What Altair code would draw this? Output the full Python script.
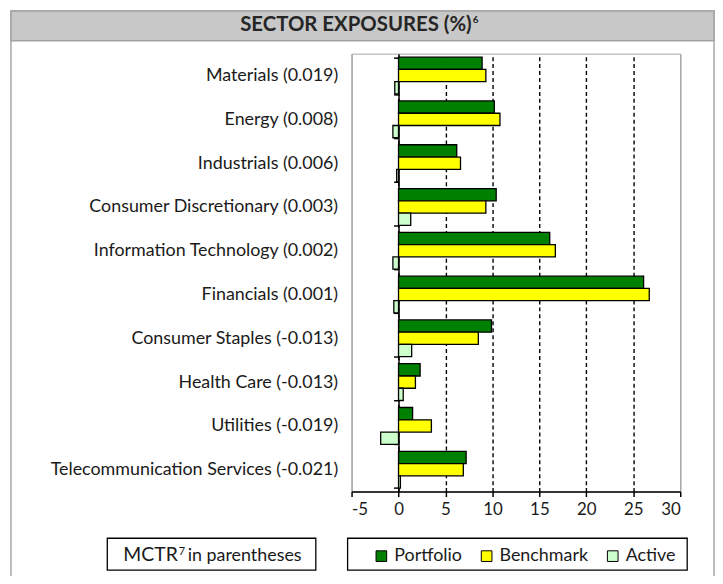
import altair as alt
import pandas as pd

sectors = ["Materials", "Energy", "Industrials", "Consumer Discretionary",
           "Information Technology", "Financials", "Consumer Staples",
           "Health Care", "Utilities", "Telecommunication Services"]
mctr = ["0.019", "0.008", "0.006", "0.003", "0.002", "0.001",
        "-0.013", "-0.013", "-0.019", "-0.021"]
portfolio = [8.9, 10.2, 6.2, 10.4, 16.1, 26.1, 9.9, 2.3, 1.5, 7.2]
benchmark = [9.3, 10.8, 6.6, 9.3, 16.7, 26.7, 8.5, 1.8, 3.5, 6.9]
active = [-0.4, -0.6, -0.2, 1.3, -0.6, -0.5, 1.4, 0.5, -1.9, 0.2]

series_names = ["Portfolio", "Benchmark", "Active"]
series_colors = ["#008000", "#ffff00", "#ccffcc"]
x_ticks = [-5, 0, 5, 10, 15, 20, 25, 30]

labels = [f"{s} ({m})" for s, m in zip(sectors, mctr)]
rows = []
for lab, p, b, a in zip(labels, portfolio, benchmark, active):
    rows.append({"label": lab, "series": "Portfolio", "value": p})
    rows.append({"label": lab, "series": "Benchmark", "value": b})
    rows.append({"label": lab, "series": "Active", "value": a})
df = pd.DataFrame(rows)
one = pd.DataFrame({"k": [0]})

FONT = "Lato"
TXT = "#1a1a1a"
W, H = 331, 441
zero_px = 5 / 35 * W

bars = alt.Chart(df).mark_bar(stroke="black", strokeWidth=1.3).encode(
    y=alt.Y("label:N", sort=labels,
            scale=alt.Scale(paddingInner=0.16, paddingOuter=0.08),
            axis=alt.Axis(title=None, offset=-zero_px, domain=True,
                          domainColor="black", domainWidth=1.5,
                          ticks=True, tickBand="extent", tickSize=5,
                          tickColor="black", tickWidth=1.5,
                          labelPadding=61.3 - 5, labelFont=FONT, labelLimit=400,
                          labelFontSize=18, labelColor=TXT, grid=False)),
    yOffset=alt.YOffset("series:N", sort=series_names,
                        scale=alt.Scale(paddingInner=0, paddingOuter=0)),
    x=alt.X("value:Q", scale=alt.Scale(domain=[-5, 30], nice=False, zero=False),
            axis=alt.Axis(title=None, values=x_ticks,
                          labelExpr="datum.value + ''",
                          domainColor="black", domainWidth=1.5,
                          tickColor="black", tickWidth=1.5, tickSize=5,
                          labelFont=FONT, labelFontSize=17, labelColor=TXT,
                          labelPadding=5,
                          grid=True,
                          gridColor={"condition": {"test": "datum.value == -5 || datum.value == 30",
                                                   "value": "#a8a8a8"}, "value": "black"},
                          gridDash={"condition": {"test": "datum.value == -5 || datum.value == 30",
                                                  "value": []}, "value": [4, 3]},
                          gridWidth=1.4)),
    color=alt.Color("series:N", sort=series_names,
                    scale=alt.Scale(domain=series_names, range=series_colors),
                    legend=alt.Legend(title=None, orient="none", legendX=21, legendY=497,
                                      direction="horizontal", symbolType="square",
                                      symbolSize=115, symbolStrokeColor="black",
                                      symbolStrokeWidth=1, labelFont=FONT,
                                      labelFontSize=18, labelColor=TXT, labelOffset=4,
                                      columnPadding=15, padding=0)),
)

band = alt.Chart(one).mark_rect(fill="#c8c8c8", stroke="#a3a3a3", strokeWidth=1.5).encode(
    x=alt.value(-343), x2=alt.value(365), y=alt.value(-43), y2=alt.value(-13))
frame = alt.Chart(one).mark_rect(fill=None, stroke="#a8a8a8", strokeWidth=1.5).encode(
    x=alt.value(-343), x2=alt.value(365), y=alt.value(-43), y2=alt.value(600))
title_main = alt.Chart(one).mark_text(
    text="SECTOR EXPOSURES (%)", align="right", baseline="alphabetic",
    font=FONT, fontSize=20.5, fontWeight="bold", color="#262626").encode(
    x=alt.value(121), y=alt.value(-23))
title_sup = alt.Chart(one).mark_text(
    text="6", align="left", baseline="alphabetic",
    font=FONT, fontSize=10, fontWeight="bold", color="#262626").encode(
    x=alt.value(122), y=alt.value(-31))

mctr_box = alt.Chart(one).mark_rect(fill="white", stroke="black", strokeWidth=1.3).encode(
    x=alt.value(-246), x2=alt.value(-36), y=alt.value(488), y2=alt.value(520))
leg_box = alt.Chart(one).mark_rect(fill="white", stroke="black", strokeWidth=1.3).encode(
    x=alt.value(-4), x2=alt.value(338), y=alt.value(488), y2=alt.value(520))
mctr_a = alt.Chart(one).mark_text(
    text="MCTR", align="right", baseline="alphabetic",
    font=FONT, fontSize=19.5, color=TXT).encode(x=alt.value(-175), y=alt.value(511))
mctr_b = alt.Chart(one).mark_text(
    text="7", align="left", baseline="alphabetic",
    font=FONT, fontSize=11, color=TXT).encode(x=alt.value(-174), y=alt.value(505))
mctr_c = alt.Chart(one).mark_text(
    text="in parentheses", align="left", baseline="alphabetic",
    font=FONT, fontSize=18, color=TXT).encode(x=alt.value(-165), y=alt.value(511))

chart = alt.layer(
    frame, band, title_main, title_sup, mctr_box, leg_box, mctr_a, mctr_b, mctr_c, bars
).properties(
    width=W, height=H,
    autosize=alt.AutoSizeParams(type="none"),
    padding={"left": 346, "top": 44, "right": 35, "bottom": 83},
).configure_view(stroke="#a8a8a8", strokeWidth=1)

chart.save("out.html", embed_options={"renderer": "svg", "actions": False})
